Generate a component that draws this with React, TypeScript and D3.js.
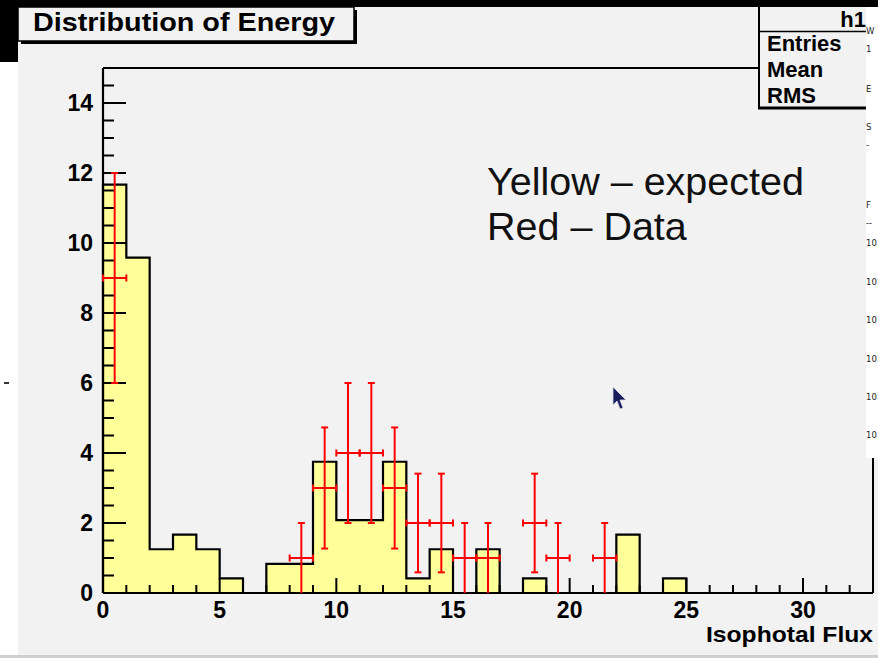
import React from "react";
import * as d3 from "d3";

// Expected counts per unit bin (bins 0-1, 1-2, ..., 32-33)
const expected = [
  11.67, 9.58, 1.25, 1.67, 1.25, 0.42, 0, 0.83, 0.83, 3.75, 2.08, 2.08, 3.75,
  0.42, 1.25, 0, 1.25, 0, 0.42, 0, 0, 0, 1.67, 0, 0.42, 0, 0, 0, 0, 0, 0, 0, 0,
];
// Observed data points (bin centers, counts, errors)
const dataX = [0.5, 8.5, 9.5, 10.5, 11.5, 12.5, 13.5, 14.5, 15.5, 16.5, 18.5, 19.5, 21.5];
const dataY = [9, 1, 3, 4, 4, 3, 2, 2, 1, 1, 2, 1, 1];
const dataErr = [3, 1, 1.73, 2, 2, 1.73, 1.41, 1.41, 1, 1, 1.41, 1, 1];

const xTickValues = d3.range(0, 33, 1);
const xLabelValues = [0, 5, 10, 15, 20, 25, 30];
const yTickValues = d3.range(0, 15, 0.5);
const yLabelValues = [0, 2, 4, 6, 8, 10, 12, 14];

const title = "Distribution of Energy";
const xTitle = "Isophotal Flux";
const statsName = "h1";
const statsRows = ["Entries", "Mean", "RMS"];
const noteLines = ["Yellow \u2013 expected", "Red \u2013 Data"];
const sideTexts = [
  { t: "W", y: 34 },
  { t: "1", y: 52 },
  { t: "E", y: 92 },
  { t: "S", y: 130 },
  { t: "-", y: 148 },
  { t: "F", y: 208 },
  { t: "--", y: 226 },
  { t: "10", y: 246 },
  { t: "10", y: 285 },
  { t: "10", y: 323 },
  { t: "10", y: 362 },
  { t: "10", y: 400 },
  { t: "10", y: 438 },
];

const W = 878;
const H = 658;
const FONT = "'Liberation Sans', Arial, Helvetica, sans-serif";

export default function App() {
  const x = d3.scaleLinear().domain([0, 33]).range([103, 873]);
  const y = d3.scaleLinear().domain([0, 15]).range([593, 68]);

  // step outline of histogram
  const pts: [number, number][] = [[0, 0]];
  expected.forEach((v, i) => {
    pts.push([i, v]);
    pts.push([i + 1, v]);
  });
  pts.push([expected.length, 0]);
  const line = d3
    .line<[number, number]>()
    .x((d) => x(d[0]))
    .y((d) => y(d[1]));
  const histPath = line(pts) || "";

  const cap = 3.5;

  return (
    <svg
      width={W}
      height={H}
      style={{ position: "absolute", left: 0, top: 0, display: "block" }}
      fontFamily={FONT}
    >
      {/* background pieces */}
      <rect x={0} y={0} width={W} height={H} fill="#ffffff" />
      <rect x={18} y={0} width={W - 18} height={H} fill="#f2f2f2" />
      <rect x={0} y={0} width={W} height={7} fill="#000000" />
      <rect x={0} y={0} width={18} height={62} fill="#000000" />
      <rect x={0} y={655} width={W} height={3} fill="#cfcfcf" />
      <rect x={4} y={382} width={5} height={2} fill="#333" />

      {/* histogram fill + outline */}
      <path d={histPath + "Z"} fill="#ffff99" stroke="none" />
      <path d={histPath} fill="none" stroke="#000" strokeWidth={2.2} strokeLinejoin="miter" />

      {/* frame */}
      <line x1={x(0)} x2={758} y1={y(15)} y2={y(15)} stroke="#000" strokeWidth={2} />
      <line x1={x(33)} x2={x(33)} y1={458} y2={y(0)} stroke="#000" strokeWidth={2} />

      {/* x axis */}
      <line x1={x(0)} x2={x(33)} y1={y(0)} y2={y(0)} stroke="#000" strokeWidth={2.2} />
      {xTickValues.map((v) => (
        <line
          key={"xt" + v}
          x1={x(v)}
          x2={x(v)}
          y1={y(0)}
          y2={y(0) - (v % 5 === 0 ? 15 : 8)}
          stroke="#000"
          strokeWidth={2}
        />
      ))}
      {xLabelValues.map((v) => (
        <text
          key={"xl" + v}
          x={x(v)}
          y={618}
          textAnchor="middle"
          fontSize={23}
          fontWeight="bold"
          fill="#000"
        >
          {v}
        </text>
      ))}
      <text
        x={873}
        y={642}
        textAnchor="end"
        fontSize={22}
        fontWeight="bold"
        fill="#000"
        textLength={167}
        lengthAdjust="spacingAndGlyphs"
      >
        {xTitle}
      </text>

      {/* y axis */}
      <line x1={x(0)} x2={x(0)} y1={y(0)} y2={y(15)} stroke="#000" strokeWidth={2.2} />
      {yTickValues.map((v) => (
        <line
          key={"yt" + v}
          x1={x(0)}
          x2={x(0) + (v % 2 === 0 ? 23 : 11)}
          y1={y(v)}
          y2={y(v)}
          stroke="#000"
          strokeWidth={2}
        />
      ))}
      {yLabelValues.map((v) => (
        <text
          key={"yl" + v}
          x={93}
          y={y(v) + 8}
          textAnchor="end"
          fontSize={23}
          fontWeight="bold"
          fill="#000"
        >
          {v}
        </text>
      ))}

      {/* data error bars */}
      {dataX.map((cx, i) => {
        const px = x(cx);
        const py = y(dataY[i]);
        const lo = y(Math.max(0, dataY[i] - dataErr[i]));
        const hi = y(dataY[i] + dataErr[i]);
        const xl = x(cx - 0.5);
        const xr = x(cx + 0.5);
        return (
          <g key={"d" + i} stroke="#ff0000" strokeWidth={2}>
            <line x1={px} x2={px} y1={lo} y2={hi} />
            <line x1={xl} x2={xr} y1={py} y2={py} />
            <line x1={px - cap} x2={px + cap} y1={hi} y2={hi} />
            {dataY[i] - dataErr[i] > 0.01 && (
              <line x1={px - cap} x2={px + cap} y1={lo} y2={lo} />
            )}
            <line x1={xl} x2={xl} y1={py - cap} y2={py + cap} />
            <line x1={xr} x2={xr} y1={py - cap} y2={py + cap} />
          </g>
        );
      })}

      {/* annotation */}
      {noteLines.map((t, i) => (
        <text key={"n" + i} x={487} y={195 + i * 45} fontSize={39.5} fill="#111">
          {t}
        </text>
      ))}

      {/* cursor */}
      <path
        d="M613,387 L613,405 L617,401 L620,409 L623,408 L620,400 L626,400 Z"
        fill="#1a1d5c"
        stroke="#dcdce6"
        strokeWidth={0.8}
      />

      {/* title box */}
      <rect x={21} y={10} width={336} height={34} fill="#000" />
      <rect x={18} y={7} width={336} height={34} fill="#f2f2f2" stroke="#000" strokeWidth={1.5} />
      <text
        x={33}
        y={31}
        fontSize={25}
        fontWeight="bold"
        fill="#000"
        textLength={302}
        lengthAdjust="spacingAndGlyphs"
      >
        {title}
      </text>

      {/* stats box */}
      <rect x={758} y={7} width={120} height={101} fill="#f2f2f2" />
      <line x1={759} x2={759} y1={7} y2={108} stroke="#000" strokeWidth={2} />
      <line x1={758} x2={866} y1={108} y2={108} stroke="#000" strokeWidth={3} />
      <line x1={758} x2={866} y1={31.5} y2={31.5} stroke="#000" strokeWidth={1.5} />
      <text x={866} y={27} textAnchor="end" fontSize={22} fontWeight="bold" fill="#000">
        {statsName}
      </text>
      {statsRows.map((t, i) => (
        <text key={"s" + i} x={767} y={51 + i * 26} fontSize={22} fontWeight="bold" fill="#000">
          {t}
        </text>
      ))}

      {/* window behind on the right */}
      <rect x={866} y={7} width={12} height={451} fill="#ffffff" />
      {sideTexts.map((s, i) => (
        <text key={"st" + i} x={866} y={s.y} fontSize={8.5} fontFamily="'DejaVu Sans', sans-serif" fill="#222">
          {s.t}
        </text>
      ))}
    </svg>
  );
}
